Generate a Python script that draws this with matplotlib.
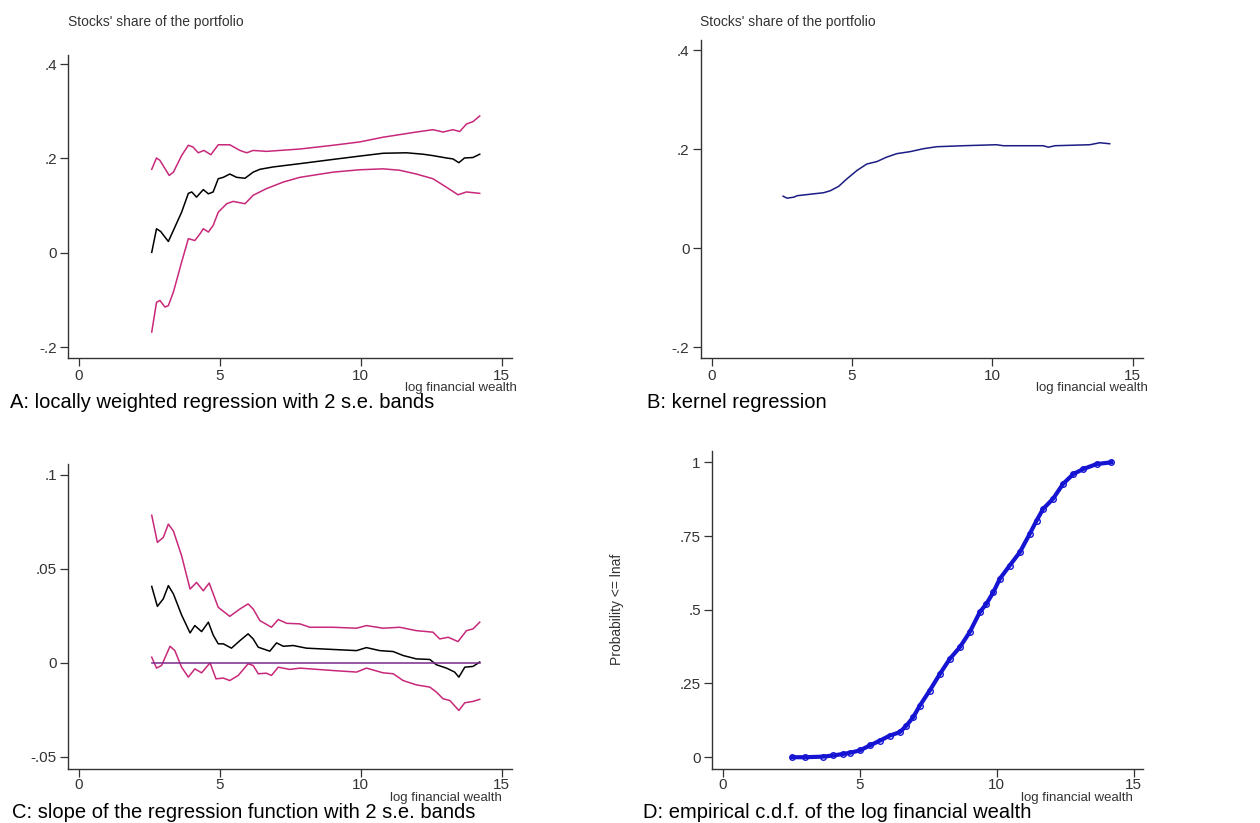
import matplotlib.pyplot as plt
import numpy as np

plt.rcParams["font.family"] = ["Liberation Sans", "DejaVu Sans"]

# Panel A: locally weighted regression with 2 s.e. bands
a_mid_x = [2.58, 2.75, 2.9, 3.17, 3.64, 3.88, 4.0, 4.17, 4.41, 4.59, 4.76, 4.94, 5.12, 5.35,
           5.59, 5.89, 6.18, 6.42, 6.89, 7.84, 9.02, 9.96, 10.79, 11.62, 12.21, 12.56, 13.04,
           13.27, 13.48, 13.68, 13.98, 14.22]
a_mid_y = [0.001, 0.051, 0.045, 0.024, 0.086, 0.126, 0.129, 0.118, 0.134, 0.125, 0.129, 0.157,
           0.160, 0.167, 0.160, 0.158, 0.171, 0.177, 0.182, 0.189, 0.198, 0.205, 0.211, 0.212,
           0.209, 0.206, 0.201, 0.199, 0.191, 0.201, 0.202, 0.209]
a_up_x = [2.58, 2.75, 2.87, 3.20, 3.35, 3.64, 3.88, 4.05, 4.23, 4.43, 4.68, 4.94, 5.35, 5.71,
          5.95, 6.18, 6.65, 7.84, 9.02, 9.96, 10.79, 11.97, 12.56, 12.92, 13.27, 13.51, 13.75,
          13.98, 14.22]
a_up_y = [0.177, 0.201, 0.196, 0.164, 0.171, 0.206, 0.228, 0.224, 0.212, 0.217, 0.208, 0.229,
          0.229, 0.217, 0.212, 0.217, 0.215, 0.220, 0.228, 0.235, 0.245, 0.256, 0.261, 0.256,
          0.261, 0.257, 0.273, 0.278, 0.290]
a_lo_x = [2.58, 2.75, 2.87, 3.05, 3.17, 3.35, 3.64, 3.88, 4.11, 4.29, 4.41, 4.59, 4.76, 4.94,
          5.24, 5.47, 5.89, 6.18, 6.65, 7.25, 7.84, 9.02, 9.96, 10.79, 11.38, 11.97, 12.56,
          13.04, 13.45, 13.75, 14.22]
a_lo_y = [-0.168, -0.105, -0.101, -0.115, -0.112, -0.083, -0.020, 0.030, 0.026, 0.040, 0.051,
          0.044, 0.058, 0.086, 0.104, 0.109, 0.104, 0.122, 0.136, 0.150, 0.160, 0.171, 0.176,
          0.178, 0.175, 0.167, 0.157, 0.139, 0.123, 0.129, 0.126]

# Panel B: kernel regression
b_x = [2.55, 2.69, 2.93, 3.05, 3.52, 3.99, 4.23, 4.53, 4.82, 5.18, 5.53, 5.89, 6.24, 6.60,
       7.07, 7.55, 8.02, 8.97, 10.15, 10.39, 11.81, 12.0, 12.23, 13.47, 13.83, 14.18]
b_y = [0.105, 0.101, 0.103, 0.106, 0.109, 0.112, 0.116, 0.125, 0.140, 0.157, 0.170, 0.175,
       0.184, 0.191, 0.195, 0.201, 0.205, 0.207, 0.209, 0.207, 0.207, 0.204, 0.207, 0.209,
       0.213, 0.211]

# Panel C: slope of the regression function with 2 s.e. bands
c_mid_x = [2.58, 2.78, 2.99, 3.17, 3.35, 3.64, 3.94, 4.11, 4.35, 4.59, 4.76, 4.94, 5.12, 5.41,
           5.71, 6.0, 6.18, 6.36, 6.77, 7.01, 7.25, 7.6, 8.07, 9.02, 9.85, 10.2, 10.67, 11.15,
           11.5, 11.97, 12.45, 12.68, 13.04, 13.33, 13.48, 13.69, 13.98, 14.22]
c_mid_y = [0.0406, 0.030, 0.034, 0.041, 0.0366, 0.0254, 0.0159, 0.0198, 0.0166, 0.0216, 0.0148,
           0.0101, 0.0101, 0.0078, 0.0118, 0.0154, 0.0127, 0.0083, 0.0062, 0.0106, 0.0088,
           0.0092, 0.0078, 0.0071, 0.0065, 0.0081, 0.0065, 0.0060, 0.0039, 0.0021, 0.0018,
           -0.0010, -0.0028, -0.0049, -0.0076, -0.0023, -0.0019, 0.0004]
c_up_x = [2.58, 2.78, 2.99, 3.17, 3.35, 3.64, 3.94, 4.17, 4.41, 4.62, 4.94, 5.35, 5.71, 6.0,
          6.18, 6.42, 6.83, 7.07, 7.37, 7.84, 8.19, 9.02, 9.85, 10.2, 10.79, 11.38, 11.97,
          12.56, 12.8, 13.1, 13.45, 13.75, 13.98, 14.22]
c_up_y = [0.0784, 0.064, 0.0666, 0.0737, 0.070, 0.0569, 0.0392, 0.0427, 0.0383, 0.0424, 0.0295,
          0.0247, 0.0286, 0.0313, 0.0286, 0.0224, 0.0189, 0.0230, 0.0210, 0.0207, 0.0189,
          0.0189, 0.0184, 0.0198, 0.0184, 0.0189, 0.0171, 0.0163, 0.0127, 0.0136, 0.0113,
          0.0171, 0.0180, 0.0216]
c_lo_x = [2.58, 2.75, 2.93, 3.23, 3.4, 3.64, 3.88, 4.11, 4.35, 4.65, 4.86, 5.12, 5.35, 5.65,
          6.0, 6.18, 6.36, 6.65, 6.83, 7.07, 7.48, 7.84, 9.02, 9.85, 10.2, 10.79, 11.15, 11.5,
          11.97, 12.45, 12.68, 12.92, 13.16, 13.48, 13.69, 13.98, 14.22]
c_lo_y = [0.003, -0.0028, -0.0014, 0.0088, 0.0065, -0.0023, -0.0076, -0.0032, -0.0053, 0.0,
          -0.0085, -0.0081, -0.0094, -0.0067, -0.0005, -0.0014, -0.0058, -0.0055, -0.0067,
          -0.0023, -0.0035, -0.0028, -0.0041, -0.0049, -0.0028, -0.0053, -0.0058, -0.0094,
          -0.0117, -0.0129, -0.0155, -0.0191, -0.0200, -0.0253, -0.0212, -0.0205, -0.0194]

# Panel D: empirical c.d.f.
d_x = [2.53, 3.0, 3.66, 4.03, 4.39, 4.64, 5.0, 5.37, 5.73, 6.09, 6.46, 6.70, 6.95, 7.19, 7.55,
       7.92, 8.28, 8.65, 9.01, 9.38, 9.62, 9.87, 10.11, 10.47, 10.84, 11.2, 11.45, 11.69, 12.05,
       12.42, 12.79, 13.15, 13.64, 14.18]
d_y = [0.0, 0.0, 0.002, 0.006, 0.011, 0.015, 0.023, 0.040, 0.056, 0.073, 0.085, 0.107, 0.136,
       0.175, 0.226, 0.282, 0.333, 0.373, 0.424, 0.492, 0.520, 0.559, 0.605, 0.650, 0.695,
       0.757, 0.802, 0.842, 0.876, 0.927, 0.960, 0.977, 0.994, 1.0]

pink = "#c8287a"
tick_fs = 11
lab_fs = 10
cap_fs = 14.5

fig = plt.figure(figsize=(12.6, 8.23), dpi=100)
axA = fig.add_axes([0.054, 0.565, 0.352, 0.368])
axB = fig.add_axes([0.556, 0.565, 0.351, 0.386])
axC = fig.add_axes([0.054, 0.0656, 0.352, 0.371])
axD = fig.add_axes([0.565, 0.0656, 0.342, 0.387])


def style(ax, xlim, ylim, yticks, yticklabels, xpad=2):
    for s in ["top", "right"]:
        ax.spines[s].set_visible(False)
    for s in ["left", "bottom"]:
        ax.spines[s].set_linewidth(1.0)
        ax.spines[s].set_color("#333333")
    ax.set_xlim(*xlim)
    ax.set_ylim(*ylim)
    ax.set_xticks([0, 5, 10, 15])
    ax.set_xticklabels(["0", "5", "10", "15"])
    ax.set_yticks(yticks)
    ax.set_yticklabels(yticklabels)
    ax.tick_params(direction="out", length=6, width=0.9, labelsize=tick_fs,
                   colors="#333333", pad=2)
    ax.tick_params(axis="x", pad=xpad)


lw = 1.1
axA.plot(a_up_x, a_up_y, color=pink, lw=lw)
axA.plot(a_lo_x, a_lo_y, color=pink, lw=lw)
axA.plot(a_mid_x, a_mid_y, color="black", lw=lw)
style(axA, (-0.39, 15.35), (-0.223, 0.419), [-0.2, 0, 0.2, 0.4], ["-.2", "0", ".2", ".4"])

axB.plot(b_x, b_y, color="#1c1c84", lw=lw)
style(axB, (-0.39, 15.36), (-0.222, 0.42), [-0.2, 0, 0.2, 0.4], ["-.2", "0", ".2", ".4"])

axC.plot(c_up_x, c_up_y, color=pink, lw=lw)
axC.plot(c_lo_x, c_lo_y, color=pink, lw=lw)
axC.plot(c_mid_x, c_mid_y, color="black", lw=lw)
axC.plot([c_mid_x[0], c_mid_x[-1]], [0, 0], color="#7a2a8e", lw=lw)
style(axC, (-0.39, 15.35), (-0.0564, 0.1058), [-0.05, 0, 0.05, 0.1],
      ["-.05", "0", ".05", ".1"], xpad=0.5)

axD.plot(d_x, d_y, color="#1414d2", lw=3.0, marker="o", markersize=4,
         markerfacecolor="none", markeredgewidth=1.0)
style(axD, (-0.40, 15.33), (-0.04, 1.04), [0, 0.25, 0.5, 0.75, 1],
      ["0", ".25", ".5", ".75", "1"], xpad=0.5)
axD.set_ylabel("Probability <= lnaf", fontsize=10, color="#333333")
axD.yaxis.set_label_coords(-0.205, 0.5)

# top-left y titles
fig.text(68 / 1260, 1 - 22 / 823, "Stocks' share of the portfolio", fontsize=lab_fs,
         va="center", ha="left", color="#333333")
fig.text(700 / 1260, 1 - 22 / 823, "Stocks' share of the portfolio", fontsize=lab_fs,
         va="center", ha="left", color="#333333")

# x titles, tucked under the right end of each axis
for xr, yc in [(517, 388), (1148, 388), (502, 798.5), (1133, 798.5)]:
    fig.text(xr / 1260, 1 - yc / 823, "log financial wealth", fontsize=9.5,
             va="center", ha="right", color="#333333")

# captions
fig.text(10 / 1260, 1 - 403 / 823, "A: locally weighted regression with 2 s.e. bands",
         fontsize=cap_fs, va="center", ha="left")
fig.text(647 / 1260, 1 - 403 / 823, "B: kernel regression",
         fontsize=cap_fs, va="center", ha="left")
fig.text(12 / 1260, 1 - 813 / 823, "C: slope of the regression function with 2 s.e. bands",
         fontsize=cap_fs, va="center", ha="left")
fig.text(643 / 1260, 1 - 813 / 823, "D: empirical c.d.f. of the log financial wealth",
         fontsize=cap_fs, va="center", ha="left")

fig.savefig("out.png", dpi=100)
